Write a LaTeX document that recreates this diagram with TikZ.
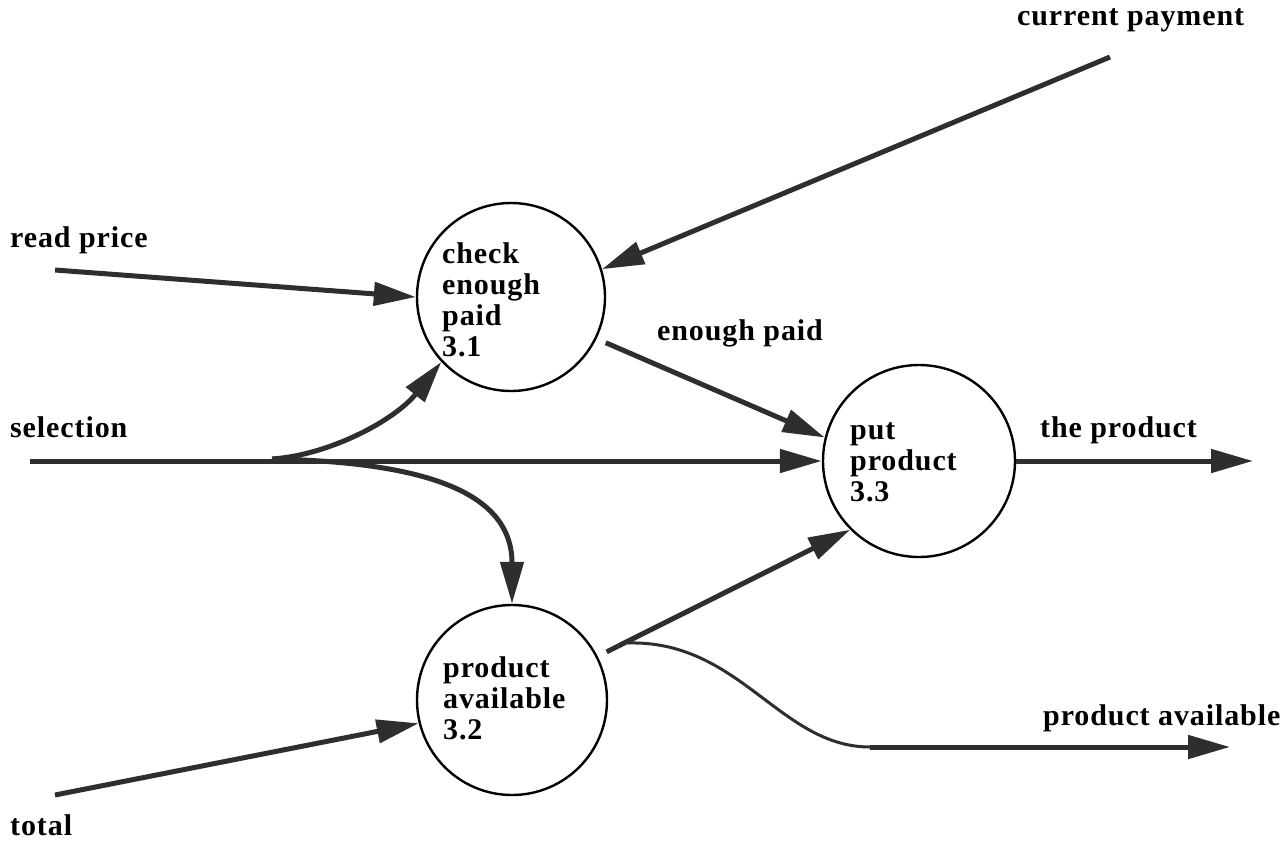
\documentclass[tikz,border=0pt]{standalone}
\usepackage{fontspec}
\setmainfont[LetterSpace=3]{Liberation Serif}
\usetikzlibrary{arrows.meta}
\begin{document}
\begin{tikzpicture}[x=1pt,y=-1pt,
  proc/.style={circle,draw=black,line width=2.4pt,inner sep=0pt},
  flow/.style={draw=black!82,line width=5pt,-{Triangle[length=42pt,width=23pt]}},
  lbl/.style={font=\fontsize{30pt}{31pt}\selectfont\bfseries, inner sep=0pt, anchor=base west},
  ptext/.style={lbl, align=left, anchor=west}]
\useasboundingbox (0,0) rectangle (1287,854);

% processes
\node[proc,minimum size=188pt] (p31) at (511,297) {};
\node[proc,minimum size=192pt] (p33) at (919,461) {};
\node[proc,minimum size=190pt] (p32) at (512,700) {};
\node[ptext] (t31) at (442,300) {check\\enough\\paid\\3.1};
\node[ptext] (t33) at (850,462) {put\\product\\3.3};
\node[ptext] (t32) at (443,698) {product\\available\\3.2};

% free ends
\coordinate (rp) at (55,270);
\coordinate (cp) at (1110,57);
\coordinate (sel) at (30,461);
\coordinate (fork) at (272,459);
\coordinate (tp) at (1253,461);
\coordinate (pa0) at (628,643);
\coordinate (pa1) at (870,747);
\coordinate (pa2) at (1230,747);
\coordinate (tot) at (55,795);

% flows
\draw[flow] (rp) -- (p31.180);
\draw[flow] (cp) -- (p31.17);
\draw[flow] (sel) -- (p33.180);
\draw[flow] (fork) .. controls (330,455) and (395,420) .. (p31.223);
\draw[flow] (fork) .. controls (420,462) and (512,490) .. (p32.90);
\draw[flow, shorten <=10pt] (p31.-26) -- (p33.166);
\draw[flow] (p33.0) -- (tp);
\draw[flow, shorten <=10pt] (p32.27) -- (p33.225);
\draw[draw=black!82,line width=3pt] (pa0) .. controls (740,640) and (780,747) .. (pa1);
\draw[flow] (pa1) -- (pa2);
\draw[flow] (tot) -- (p32.194);

% labels
\node[lbl] (lcp) at (1017,25) {current payment};
\node[lbl] (lrp) at (10,247) {read price};
\node[lbl] (lsel) at (10,437) {selection};
\node[lbl] (lep) at (657,340) {enough paid};
\node[lbl] (ltp) at (1040,437) {the product};
\node[lbl] (lpa) at (1043,725) {product available};
\node[lbl] (ltot) at (10,835) {total};
\end{tikzpicture}
\end{document}
